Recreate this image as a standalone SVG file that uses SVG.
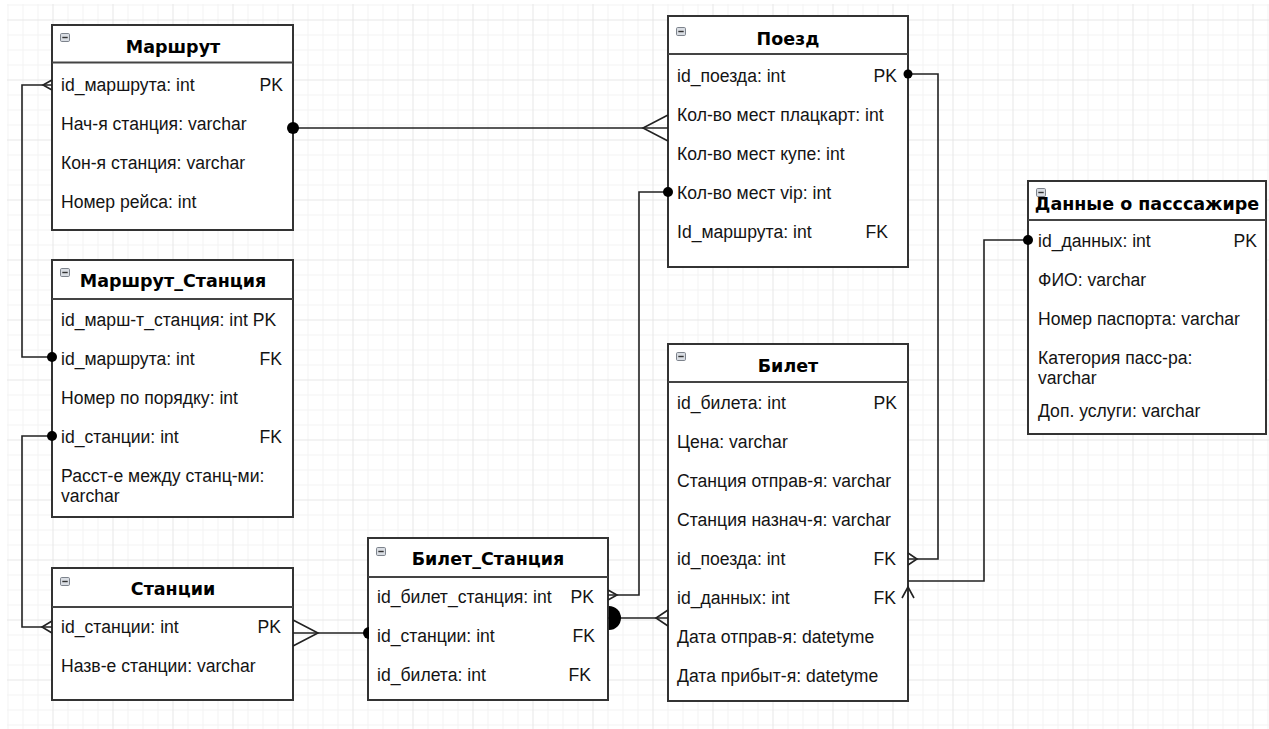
<svg xmlns="http://www.w3.org/2000/svg" xmlns:xlink="http://www.w3.org/1999/xlink" width="1269" height="729" viewBox="0 0 1269 729">
<style>
.tbl{fill:#fff;stroke:#333;stroke-width:2}
.sep{stroke:#444;stroke-width:2}
.t{font-family:"Liberation Sans",Arial,sans-serif;font-size:17.6px;fill:#141414}
.h{font-family:"DejaVu Sans","Liberation Sans",sans-serif;font-weight:bold;font-size:17.5px;text-anchor:middle;fill:#000}
.k{text-anchor:end}
.c{fill:none;stroke:#222;stroke-width:1.6}
.dot{fill:#000}
</style>
<defs>
<pattern id="grid" patternUnits="userSpaceOnUse" x="52.5" y="19.5" width="60" height="60">
<path d="M15.5 0V60M30.5 0V60M45.5 0V60M0 15.5H60M0 30.5H60M0 45.5H60" stroke="#f3f3f3" stroke-width="1" fill="none"/>
<path d="M0.5 0V60M0 0.5H60" stroke="#e6e6e6" stroke-width="1" fill="none"/>
</pattern>
<symbol id="mn" viewBox="0 0 10 9" width="10" height="9" overflow="visible">
<rect x="0.5" y="0.5" width="9" height="8" rx="1.2" fill="#d9dde3" stroke="#7d838c" stroke-width="1"/>
<line x1="2.3" y1="4.5" x2="7.7" y2="4.5" stroke="#333" stroke-width="1.4"/>
</symbol>
</defs>
<rect width="1269" height="729" fill="#fff"/>
<rect x="7" y="4" width="1262" height="725" fill="url(#grid)"/>

<g id="marshrut">
<rect class="tbl" x="52" y="25" width="241" height="205"/>
<line class="sep" x1="52" y1="62.5" x2="293" y2="62.5"/>
<use href="#mn" x="60" y="33"/>
<text class="t h" x="173" y="53">Маршрут</text>
<text class="t" x="61" y="91">id_маршрута: int</text>
<text class="t k" x="283" y="91">PK</text>
<text class="t" x="61" y="130">Нач-я станция: varchar</text>
<text class="t" x="61" y="169">Кон-я станция: varchar</text>
<text class="t" x="61" y="208">Номер рейса: int</text>
</g>

<g id="marshrut_stanciya">
<rect class="tbl" x="52" y="260" width="241" height="257"/>
<line class="sep" x1="52" y1="299" x2="293" y2="299"/>
<use href="#mn" x="60" y="268"/>
<text class="t h" x="173" y="287">Маршрут_Станция</text>
<text class="t" x="61" y="326">id_марш-т_станция: int PK</text>
<text class="t" x="61" y="365">id_маршрута: int</text>
<text class="t k" x="282" y="365">FK</text>
<text class="t" x="61" y="404">Номер по порядку: int</text>
<text class="t" x="61" y="443">id_станции: int</text>
<text class="t k" x="282" y="443">FK</text>
<text class="t" x="61" y="482">Расст-е между станц-ми:</text>
<text class="t" x="61" y="502">varchar</text>
</g>

<g id="stancii">
<rect class="tbl" x="52" y="568" width="241" height="132"/>
<line class="sep" x1="52" y1="607" x2="293" y2="607"/>
<use href="#mn" x="60" y="577"/>
<text class="t h" x="173" y="595">Станции</text>
<text class="t" x="61" y="633">id_станции: int</text>
<text class="t k" x="281" y="633">PK</text>
<text class="t" x="61" y="672">Назв-е станции: varchar</text>
</g>

<g id="bilet_stanciya">
<rect class="tbl" x="368" y="538" width="240" height="162"/>
<line class="sep" x1="368" y1="577" x2="608" y2="577"/>
<use href="#mn" x="376" y="547"/>
<text class="t h" x="488" y="565">Билет_Станция</text>
<text class="t" x="377" y="603">id_билет_станция: int</text>
<text class="t k" x="594" y="603">PK</text>
<text class="t" x="377" y="642">id_станции: int</text>
<text class="t k" x="595" y="642">FK</text>
<text class="t" x="377" y="681">id_билета: int</text>
<text class="t k" x="591" y="681">FK</text>
</g>

<g id="poezd">
<rect class="tbl" x="668" y="16" width="240" height="251"/>
<line class="sep" x1="668" y1="54" x2="908" y2="54"/>
<use href="#mn" x="676" y="27"/>
<text class="t h" x="788" y="45">Поезд</text>
<text class="t" x="677" y="82">id_поезда: int</text>
<text class="t k" x="897" y="82">PK</text>
<text class="t" x="677" y="121">Кол-во мест плацкарт: int</text>
<text class="t" x="677" y="160">Кол-во мест купе: int</text>
<text class="t" x="677" y="199">Кол-во мест vip: int</text>
<text class="t" x="677" y="238">Id_маршрута: int</text>
<text class="t k" x="888" y="238">FK</text>
</g>

<g id="bilet">
<rect class="tbl" x="668" y="344" width="240" height="357"/>
<line class="sep" x1="668" y1="382" x2="908" y2="382"/>
<use href="#mn" x="676" y="352"/>
<text class="t h" x="788" y="372">Билет</text>
<text class="t" x="677" y="409">id_билета: int</text>
<text class="t k" x="897" y="409">PK</text>
<text class="t" x="677" y="448">Цена: varchar</text>
<text class="t" x="677" y="487">Станция отправ-я: varchar</text>
<text class="t" x="677" y="526">Станция назнач-я: varchar</text>
<text class="t" x="677" y="565">id_поезда: int</text>
<text class="t k" x="896" y="565">FK</text>
<text class="t" x="677" y="604">id_данных: int</text>
<text class="t k" x="896" y="604">FK</text>
<text class="t" x="677" y="643">Дата отправ-я: datetyme</text>
<text class="t" x="677" y="682">Дата прибыт-я: datetyme</text>
</g>

<g id="dannye">
<rect class="tbl" x="1028" y="181" width="238" height="253"/>
<line class="sep" x1="1028" y1="220" x2="1266" y2="220"/>
<text class="t h" x="1147" y="210">Данные о пасссажире</text>
<use href="#mn" x="1036" y="188"/>
<text class="t" x="1038" y="247">id_данных: int</text>
<text class="t k" x="1257" y="247">PK</text>
<text class="t" x="1038" y="286">ФИО: varchar</text>
<text class="t" x="1038" y="325">Номер паспорта: varchar</text>
<text class="t" x="1038" y="364">Категория пасс-ра:</text>
<text class="t" x="1038" y="384">varchar</text>
<text class="t" x="1038" y="417">Доп. услуги: varchar</text>
</g>

<g id="connectors">
<path class="c" d="M52 85H22V357H52"/>
<path class="c" d="M52 80L43 85L52 90"/>
<circle class="dot" cx="52" cy="357" r="5"/>
<path class="c" d="M52 436H22V627H52"/>
<circle class="dot" cx="52" cy="436" r="5"/>
<path class="c" d="M52 621L42 627L52 633"/>
<path class="c" d="M293 128H668"/>
<circle class="dot" cx="293" cy="128" r="6"/>
<path class="c" d="M668 115L643 128L668 141"/>
<path class="c" d="M668 192H639V595H608"/>
<circle class="dot" cx="668" cy="192" r="5"/>
<path class="c" d="M608 590L617 595L608 600"/>
<path class="c" d="M608 618H668"/>
<path class="dot" d="M609 606A12 12 0 0 1 609 630Z"/>
<path class="c" d="M668 610L656 618L668 626"/>
<path class="c" d="M293 633H368"/>
<path class="c" d="M293 620L318 633L293 646"/>
<path class="dot" d="M369 627A6 6 0 0 0 369 639Z"/>
<path class="c" d="M908 74H938V559H908"/>
<circle class="dot" cx="908" cy="74" r="4.5"/>
<path class="c" d="M908 553L917 559L908 565"/>
<path class="c" d="M1028 240H984V581H908"/>
<circle class="dot" cx="1028" cy="240" r="5"/>
<path class="c" d="M902 598L908 587L914 598"/>
</g>
</svg>
